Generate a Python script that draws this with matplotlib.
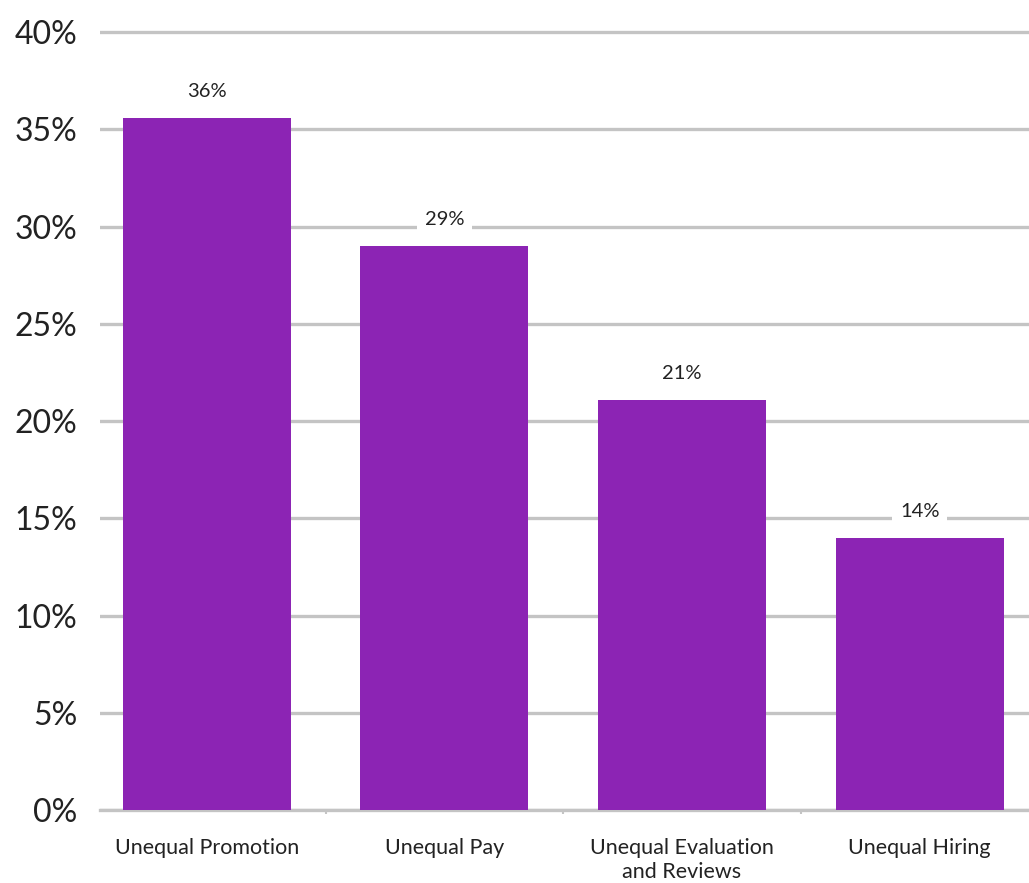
import matplotlib.pyplot as plt

plt.rcParams['font.family'] = ['Lato', 'DejaVu Sans']

categories = ['Unequal Promotion', 'Unequal Pay', 'Unequal Evaluation\nand Reviews', 'Unequal Hiring']
values = [35.6, 29.0, 21.1, 14.0]
value_labels = ['36%', '29%', '21%', '14%']
yticks = [0, 5, 10, 15, 20, 25, 30, 35, 40]

bar_color = '#8c24b4'
grid_color = '#c4c4c4'

fig = plt.figure(figsize=(10.29, 8.83), dpi=100)
ax = fig.add_axes([0.097, 0.0827, 0.903, 0.903])

x = range(len(categories))
bars = ax.bar(x, values, width=0.707, color=bar_color, zorder=3)

# labels over the bars, white box hides the gridline behind
for rect, lab in zip(bars, value_labels):
    ax.annotate(lab, (rect.get_x() + rect.get_width() / 2, rect.get_height()),
                xytext=(0, 13), textcoords='offset points', ha='center', va='bottom',
                fontsize=14.5, color='#222222', zorder=4,
                bbox=dict(boxstyle='square,pad=0.4', fc='white', ec='none'))

ax.set_xlim(-0.45, 3.46)
ax.set_ylim(0, 41)
ax.set_yticks(yticks)
ax.set_yticklabels([f'{v}%' for v in yticks], fontsize=23, color='#222222')
ax.set_xticks(list(x))
ax.set_xticklabels(categories, fontsize=15.5, color='#222222', linespacing=1.25)
ax.set_xticks([0.5, 1.5, 2.5], minor=True)
ax.tick_params(axis='both', which='major', length=0)
ax.tick_params(axis='x', which='major', pad=20)
ax.tick_params(axis='y', pad=16)
ax.tick_params(axis='x', which='minor', length=3, color=grid_color, width=1.5)

ax.grid(axis='y', color=grid_color, linewidth=2.4, zorder=0)
for s in ['top', 'right', 'left']:
    ax.spines[s].set_visible(False)
ax.spines['bottom'].set_color(grid_color)
ax.spines['bottom'].set_linewidth(2.4)

fig.savefig('out.png', dpi=100)
